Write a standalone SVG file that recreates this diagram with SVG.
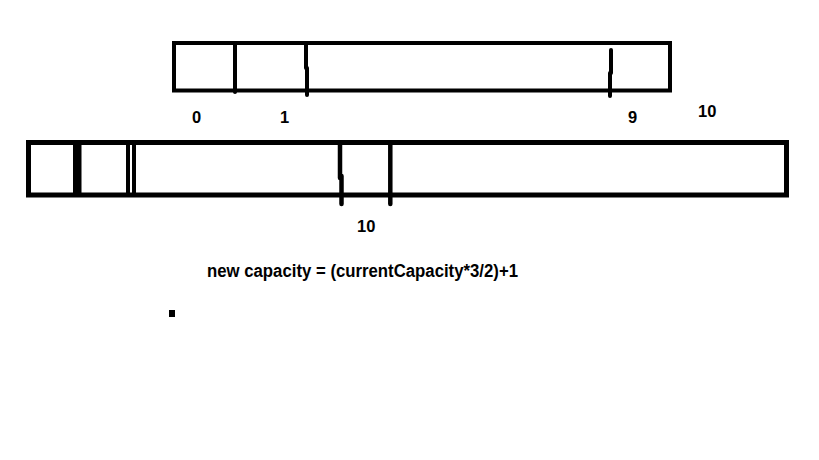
<svg xmlns="http://www.w3.org/2000/svg" width="819" height="460" viewBox="0 0 819 460">
<style>
.box{fill:none;stroke:#000;}
.div{stroke:#000;stroke-linecap:round;fill:none;}
.lbl{font-family:"Liberation Sans",Arial,sans-serif;font-weight:bold;font-size:16.5px;fill:#000;}
</style>
<rect x="0" y="0" width="819" height="460" fill="#fff"/>
<g id="old-array">
<rect class="box" x="174" y="43" width="496" height="47.5" stroke-width="4"/>
<line class="div" x1="235" y1="43" x2="235" y2="92" stroke-width="4"/>
<line class="div" x1="306" y1="43" x2="306" y2="68" stroke-width="4"/>
<line class="div" x1="307" y1="68" x2="307" y2="95" stroke-width="4"/>
<line class="div" x1="611" y1="50" x2="611" y2="73" stroke-width="4"/>
<line class="div" x1="610" y1="73" x2="610" y2="96" stroke-width="4"/>
<text class="lbl" x="192" y="123">0</text>
<text class="lbl" x="280" y="123">1</text>
<text class="lbl" x="628" y="123">9</text>
<text class="lbl" x="698" y="117">10</text>
</g>
<g id="new-array">
<rect class="box" x="28.5" y="142.5" width="758" height="52.5" stroke-width="5"/>
<rect x="73" y="142" width="8.5" height="53" fill="#000"/>
<line x1="128" y1="142" x2="128" y2="195" stroke="#000" stroke-width="4"/>
<line x1="134" y1="142" x2="134" y2="195" stroke="#000" stroke-width="4"/>
<line class="div" x1="340" y1="143" x2="340" y2="178" stroke-width="4.5"/>
<line class="div" x1="341.5" y1="176" x2="341.5" y2="204" stroke-width="4.5"/>
<line class="div" x1="390.3" y1="143" x2="390.3" y2="204" stroke-width="4.5"/>
<text class="lbl" x="357" y="232">10</text>
</g>
<g id="formula">
<text class="lbl" x="207" y="277" style="font-size:17.5px" textLength="311" lengthAdjust="spacingAndGlyphs">new capacity = (currentCapacity*3/2)+1</text>
</g>
<rect id="dot" x="169" y="310" width="6" height="7" fill="#000"/>
</svg>
